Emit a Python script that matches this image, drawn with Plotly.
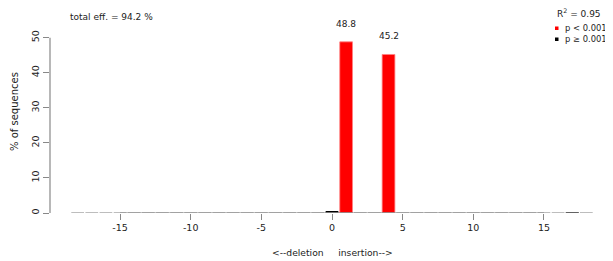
import plotly.graph_objects as go

# ---- data ----
positions = list(range(-18, 19))
pct = {0: 0.5, 1: 48.8, 4: 45.2, 17: 0.2}
values = [pct.get(p, 0.0) for p in positions]
significant = [1, 4]
x_ticks = [-15, -10, -5, 0, 5, 10, 15]
y_ticks = [0, 10, 20, 30, 40, 50]
total_eff = 94.2
r_squared = 0.95

# the page body has an 8px margin, so work in screen pixels and subtract it
OFF = 8
SCREEN_W, SCREEN_H = 613, 261
W, H = SCREEN_W - OFF, SCREEN_H - OFF
FONT = "DejaVu Sans"
BAR_W = 0.9

sig_x = [p for p, v in zip(positions, values) if p in significant]
sig_y = [v for p, v in zip(positions, values) if p in significant]
ns_x = [p for p, v in zip(positions, values) if p not in significant and v > 0]
ns_y = [v for p, v in zip(positions, values) if p not in significant and v > 0]

# baseline outline of every bar (zero-height bars appear as grey dashes)
seg_x, seg_y = [], []
for p in positions:
    seg_x += [p - BAR_W / 2, p + BAR_W / 2, None]
    seg_y += [0, 0, None]

# plot-area geometry (screen pixels)
L, R_EDGE, TOP, BOT = 50, 613, 30, 213
PW, PH = R_EDGE - L, BOT - TOP
px_per_x = 14.13
px_per_y = 3.507
x0_px = 332

def dx(px):
    return (px - x0_px) / px_per_x

def dy(py):
    return (BOT - py) / px_per_y

def paper_x(px):
    return (px - L) / PW

def paper_y(py):
    return (BOT - py) / PH

fig = go.Figure()
fig.add_trace(go.Scatter(x=seg_x, y=seg_y, mode="lines",
                         line=dict(color="#999999", width=1.3),
                         hoverinfo="skip", showlegend=False, cliponaxis=False))
fig.add_trace(go.Bar(x=ns_x, y=ns_y, width=BAR_W, marker=dict(color="black", line=dict(width=0)),
                     showlegend=False))
fig.add_trace(go.Bar(x=sig_x, y=sig_y, width=BAR_W,
                     marker=dict(color="#ff0000", line=dict(color="#ff8080", width=0.8)),
                     showlegend=False))

# axis lines R-style (only spanning tick range)
fig.add_shape(type="line", xref="x", yref="y", x0=x_ticks[0], x1=x_ticks[-1], y0=0, y1=0,
              line=dict(color="#888888", width=1.2))
fig.add_shape(type="line", xref="paper", yref="y", x0=0, x1=0, y0=y_ticks[0], y1=y_ticks[-1],
              line=dict(color="#888888", width=1.2))

TXT = "#222222"
# value labels
for x, y in zip(sig_x, sig_y):
    fig.add_annotation(x=x, y=y, text=f"{y:.1f}", showarrow=False, yshift=18,
                       yanchor="middle", font=dict(family=FONT, size=9, color=TXT))

def note(px, py, text, anchor="center", size=9, angle=0):
    fig.add_annotation(xref="paper", yref="paper", x=paper_x(px), y=paper_y(py), text=text,
                       showarrow=False, xanchor=anchor, yanchor="middle", textangle=angle,
                       font=dict(family=FONT, size=size, color=TXT))

note(14, 112, "% of sequences", size=10, angle=-90)
note(332, 252, "<--deletion" + "&nbsp;" * 5 + "insertion-->", size=9.2)
note(68, 17, f"total eff. = {total_eff} %", anchor="left")
note(579, 13, f"R<sup>2</sup> = {r_squared}")
note(563, 27.5, "p < 0.001", anchor="left", size=8.4)
note(563, 39, "p ≥ 0.001", anchor="left", size=8.4)

fig.add_shape(type="rect", xref="paper", yref="paper", x0=paper_x(555), x1=paper_x(558.5),
              y0=paper_y(30), y1=paper_y(26.5), line=dict(width=0), fillcolor="#ff0000")
fig.add_shape(type="rect", xref="paper", yref="paper", x0=paper_x(555), x1=paper_x(558.5),
              y0=paper_y(41), y1=paper_y(37.5), line=dict(width=0), fillcolor="black")

fig.update_layout(
    width=W, height=H,
    margin=dict(l=L - OFF, r=SCREEN_W - R_EDGE, t=TOP - OFF, b=(OFF + H) - BOT, autoexpand=False),
    plot_bgcolor="white", paper_bgcolor="white",
    barmode="overlay",
    showlegend=False,
    font=dict(family=FONT, size=9.5, color=TXT),
)
fig.update_xaxes(range=[dx(L), dx(R_EDGE)], tickvals=x_ticks, ticktext=[str(t) for t in x_ticks],
                 showgrid=False, zeroline=False, showline=False, automargin=False,
                 ticks="outside", ticklen=6, tickcolor="#888888", tickwidth=1,
                 tickfont=dict(family=FONT, size=9.5, color=TXT))
fig.update_yaxes(range=[0, dy(TOP)], tickvals=y_ticks, ticktext=[str(t) for t in y_ticks],
                 showgrid=False, zeroline=False, showline=False, automargin=False,
                 ticks="outside", ticklen=6, tickcolor="#888888", tickwidth=1, tickangle=-90,
                 tickfont=dict(family=FONT, size=9.5, color=TXT))

fig.write_html("out.html")
